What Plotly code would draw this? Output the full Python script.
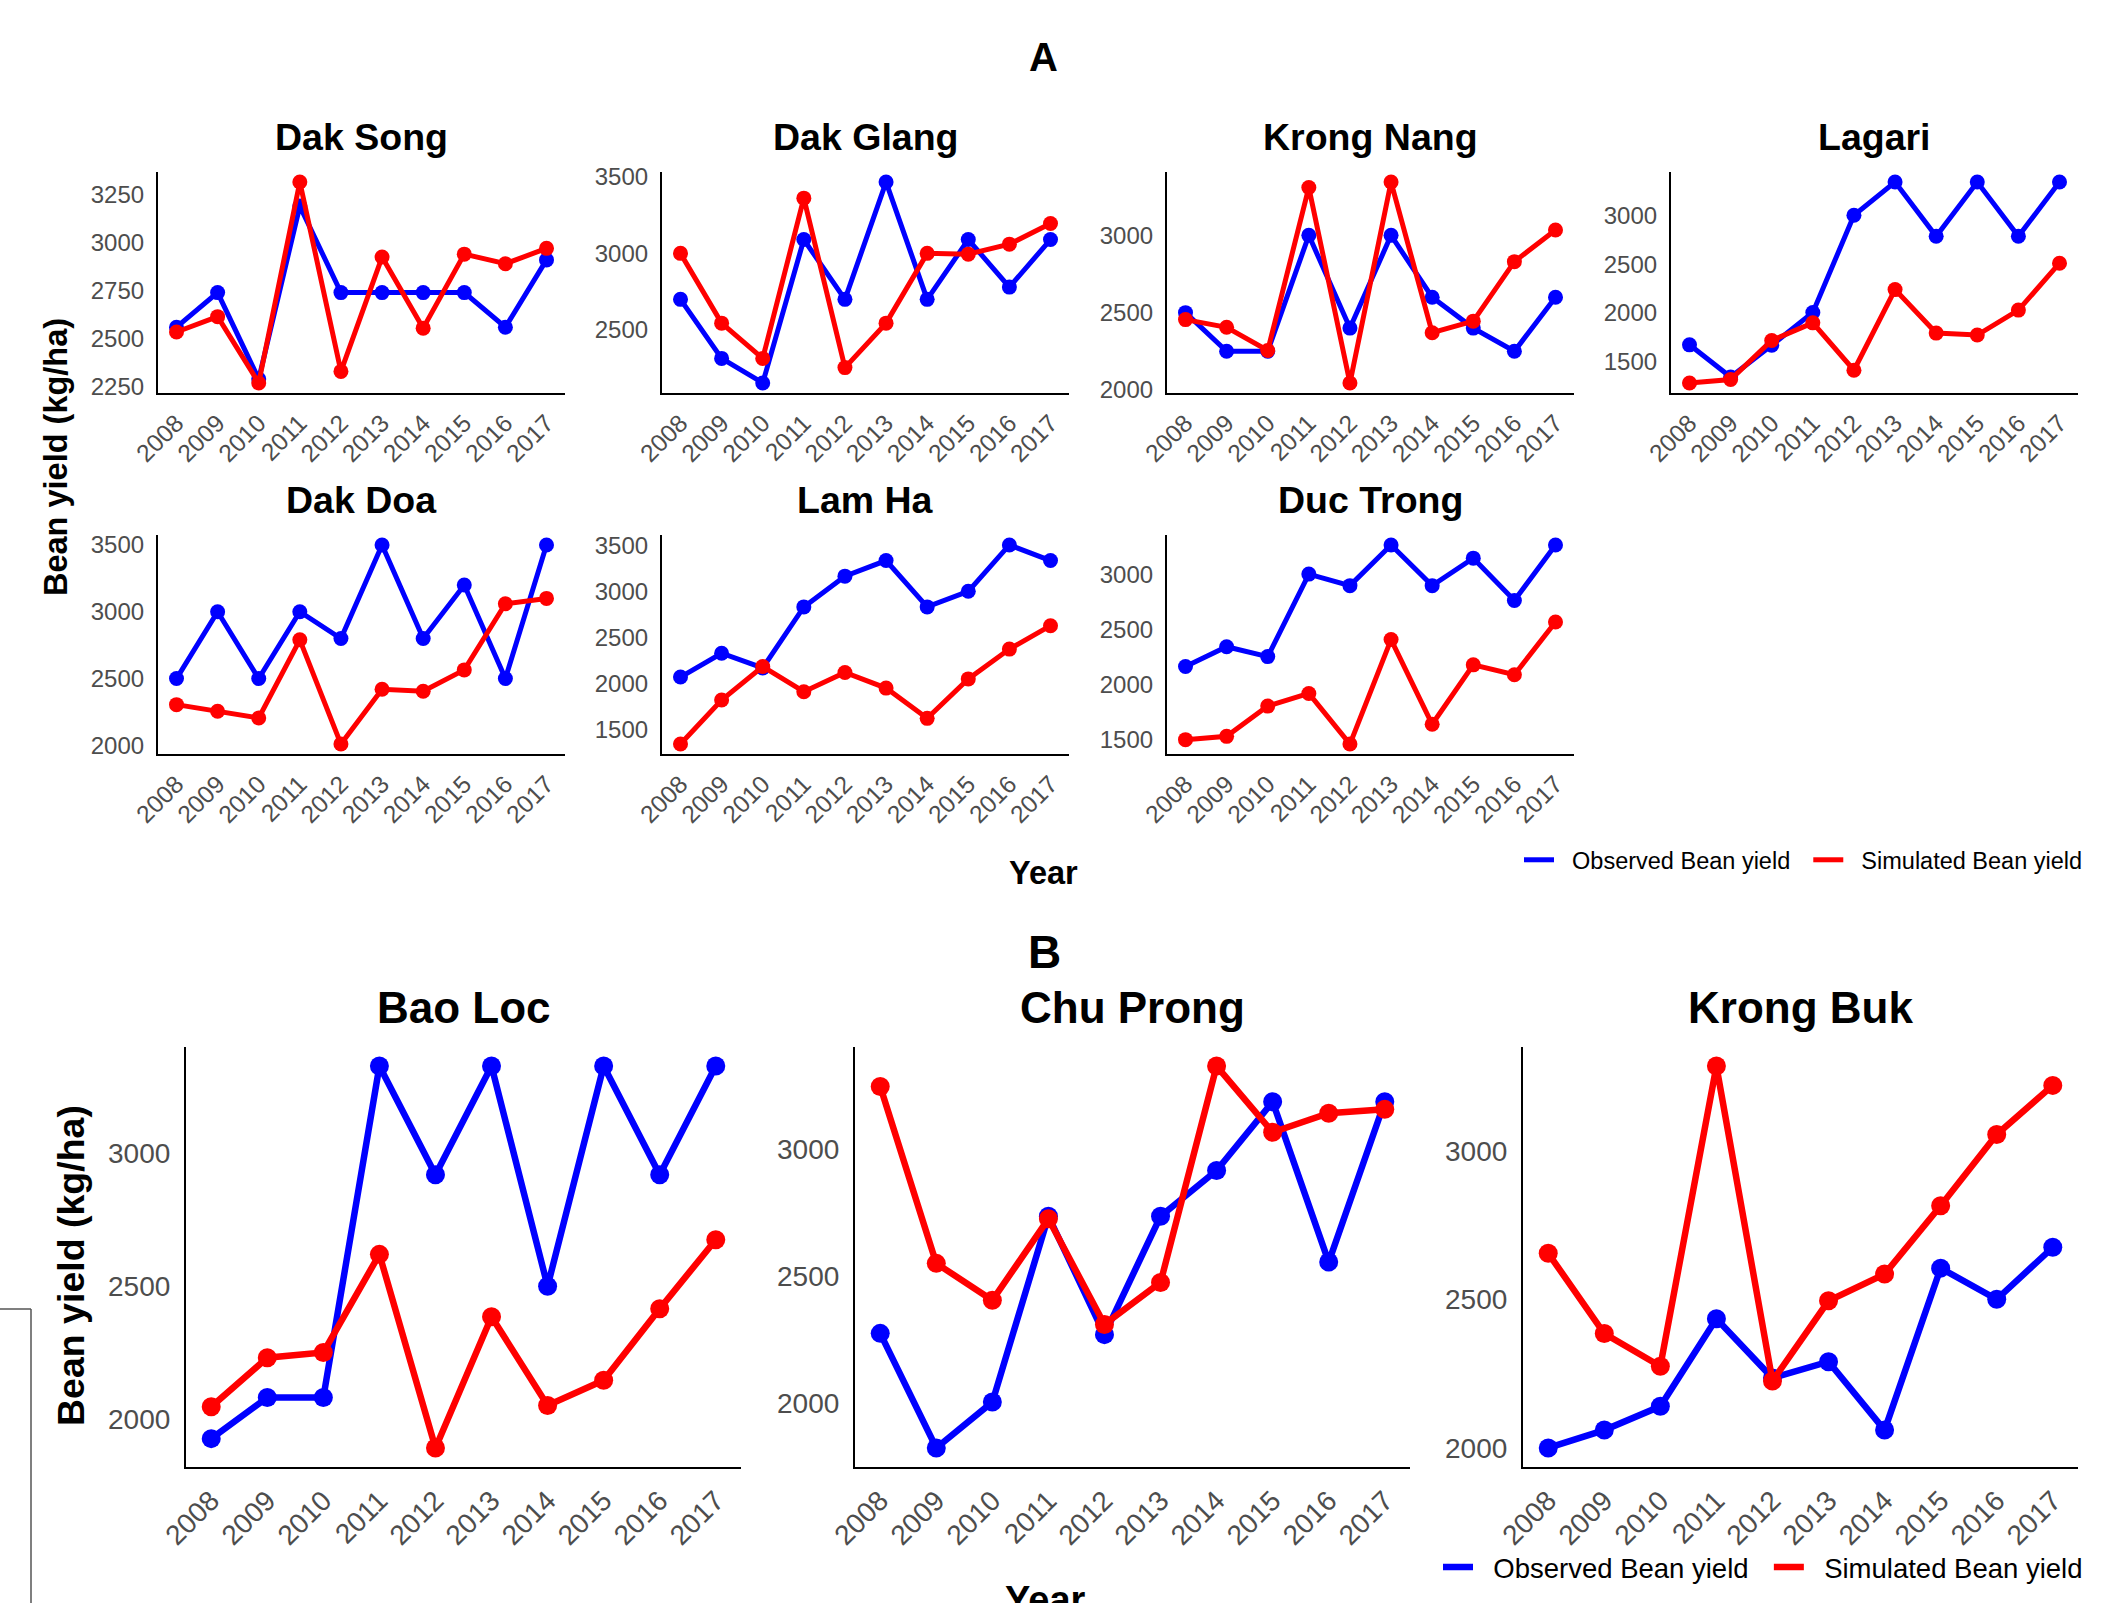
import plotly.graph_objects as go

# ---- data -------------------------------------------------------------
years = [2008, 2009, 2010, 2011, 2012, 2013, 2014, 2015, 2016, 2017]

dak_song_obs = [2560, 2740, 2290, 3190, 2740, 2740, 2740, 2740, 2560, 2910]
dak_song_sim = [2535, 2615, 2270, 3315, 2330, 2925, 2555, 2940, 2890, 2970]

dak_glang_obs = [2700, 2315, 2155, 3090, 2700, 3465, 2700, 3090, 2780, 3090]
dak_glang_sim = [3000, 2545, 2315, 3360, 2255, 2545, 3000, 2995, 3060, 3195]

krong_nang_obs = [2500, 2250, 2250, 3000, 2400, 3000, 2600, 2400, 2250, 2600]
krong_nang_sim = [2455, 2405, 2255, 3310, 2045, 3345, 2370, 2445, 2830, 3035]

lagari_obs = [1675, 1345, 1670, 2005, 3000, 3340, 2785, 3340, 2785, 3340]
lagari_sim = [1285, 1320, 1720, 1900, 1415, 2240, 1795, 1775, 2030, 2510]

dak_doa_obs = [2500, 3000, 2500, 3000, 2800, 3500, 2800, 3200, 2500, 3500]
dak_doa_sim = [2305, 2255, 2205, 2790, 2010, 2420, 2405, 2565, 3060, 3100]

lam_ha_obs = [2070, 2330, 2170, 2835, 3170, 3340, 2835, 3005, 3510, 3340]
lam_ha_sim = [1340, 1820, 2185, 1910, 2120, 1950, 1620, 2050, 2375, 2630]

duc_trong_obs = [2160, 2340, 2250, 3000, 2895, 3265, 2895, 3145, 2760, 3265]
duc_trong_sim = [1495, 1525, 1800, 1915, 1455, 2405, 1635, 2175, 2085, 2565]

bao_loc_obs = [1925, 2080, 2080, 3330, 2920, 3330, 2500, 3330, 2920, 3330]
bao_loc_sim = [2045, 2230, 2250, 2620, 1890, 2385, 2050, 2145, 2415, 2675]

chu_prong_obs = [2275, 1825, 2005, 2735, 2270, 2735, 2915, 3185, 2555, 3185]
chu_prong_sim = [3245, 2550, 2405, 2725, 2310, 2475, 3325, 3065, 3140, 3155]

krong_buk_obs = [2000, 2060, 2140, 2435, 2235, 2290, 2060, 2605, 2500, 2675]
krong_buk_sim = [2655, 2385, 2275, 3285, 2225, 2495, 2585, 2815, 3055, 3220]

obs_name = "Observed Bean yield"
sim_name = "Simulated Bean yield"

# ---- page geometry (pixels) -------------------------------------------
W, H = 2123, 1603
FONT = "Liberation Sans, Arial, sans-serif"
BLUE, RED = "#0000FF", "#FF0000"
TICK_GREY = "#4D4D4D"
NBSP = "\u00a0"


def fx(px):
    return px / W


def fy(py):
    return 1 - py / H


top_w = 407
top_lefts = [158, 662, 1167, 1671]
row1 = (172, 393)
row2 = (535, 754)
bot_w = 555
bot_lefts = [186, 855, 1523]
row3 = (1047, 1467)

# title, observed, simulated, dtick, (left, top, right, bottom), section
panels = [
    ("Dak Song", dak_song_obs, dak_song_sim, 250, (top_lefts[0], row1[0], top_lefts[0] + top_w, row1[1]), "A"),
    ("Dak Glang", dak_glang_obs, dak_glang_sim, 500, (top_lefts[1], row1[0], top_lefts[1] + top_w, row1[1]), "A"),
    ("Krong Nang", krong_nang_obs, krong_nang_sim, 500, (top_lefts[2], row1[0], top_lefts[2] + top_w, row1[1]), "A"),
    ("Lagari", lagari_obs, lagari_sim, 500, (top_lefts[3], row1[0], top_lefts[3] + top_w, row1[1]), "A"),
    ("Dak Doa", dak_doa_obs, dak_doa_sim, 500, (top_lefts[0], row2[0], top_lefts[0] + top_w, row2[1]), "A"),
    ("Lam Ha", lam_ha_obs, lam_ha_sim, 500, (top_lefts[1], row2[0], top_lefts[1] + top_w, row2[1]), "A"),
    ("Duc Trong", duc_trong_obs, duc_trong_sim, 500, (top_lefts[2], row2[0], top_lefts[2] + top_w, row2[1]), "A"),
    ("Bao Loc", bao_loc_obs, bao_loc_sim, 500, (bot_lefts[0], row3[0], bot_lefts[0] + bot_w, row3[1]), "B"),
    ("Chu Prong", chu_prong_obs, chu_prong_sim, 500, (bot_lefts[1], row3[0], bot_lefts[1] + bot_w, row3[1]), "B"),
    ("Krong Buk", krong_buk_obs, krong_buk_sim, 500, (bot_lefts[2], row3[0], bot_lefts[2] + bot_w, row3[1]), "B"),
]

style = {
    "A": dict(lw=5, ms=15, ytick=24, xtick=24.5, ystand=7, title=37.5, title_gap=35, legend="legend"),
    "B": dict(lw=6.5, ms=19, ytick=28, xtick=28, ystand=8, title=44, title_gap=40, legend="legend2"),
}
legend_panel = {"A": 0, "B": 7}

fig = go.Figure()
layout_axes = {}
annotations = []

for i, (name, obs, sim, dtick, (l, t, r, b), sec) in enumerate(panels):
    n = "" if i == 0 else str(i + 1)
    st = style[sec]
    show_leg = legend_panel[sec] == i
    for series, color, label in ((obs, BLUE, obs_name), (sim, RED, sim_name)):
        shown = NBSP * 2 + label + (NBSP * 2 if label == obs_name else "")
        fig.add_trace(go.Scatter(
            x=years, y=series, xaxis="x" + n, yaxis="y" + n, mode="lines",
            line=dict(color=color, width=st["lw"]), name=shown,
            showlegend=show_leg, legend=st["legend"], hoverinfo="skip",
            cliponaxis=False,
        ))
        fig.add_trace(go.Scatter(
            x=years, y=series, xaxis="x" + n, yaxis="y" + n, mode="markers",
            marker=dict(color=color, size=st["ms"]), name=label,
            showlegend=False, cliponaxis=False,
        ))

    lo = min(min(obs), min(sim))
    hi = max(max(obs), max(sim))
    pad = 0.05 * (hi - lo)
    common = dict(
        showline=True, linecolor="black", linewidth=2.2, ticks="",
        showgrid=False, zeroline=False,
    )
    layout_axes["xaxis" + n] = dict(
        domain=[fx(l), fx(r)], anchor="y" + n,
        range=[years[0] - 0.05 * (years[-1] - years[0]), years[-1] + 0.05 * (years[-1] - years[0])],
        tickmode="array", tickvals=years, ticktext=[str(y) for y in years],
        tickangle=-45, ticklabelstandoff=4,
        tickfont=dict(family=FONT, size=st["xtick"], color=TICK_GREY), **common,
    )
    layout_axes["yaxis" + n] = dict(
        domain=[fy(b), fy(t)], anchor="x" + n,
        range=[lo - pad, hi + pad], tick0=0, dtick=dtick,
        ticklabelstandoff=st["ystand"],
        tickfont=dict(family=FONT, size=st["ytick"], color=TICK_GREY), **common,
    )
    annotations.append(dict(
        text="<b>%s</b>" % name, x=fx((l + r) / 2), y=fy(t - st["title_gap"]),
        xref="paper", yref="paper", xanchor="center", yanchor="middle",
        showarrow=False, font=dict(family=FONT, size=st["title"], color="black"),
    ))


# section labels, shared axis titles
def label(text, x, y, size, angle=0, yanchor="middle"):
    annotations.append(dict(
        text="<b>%s</b>" % text, x=fx(x), y=fy(y), xref="paper", yref="paper",
        xanchor="center", yanchor=yanchor, showarrow=False, textangle=angle,
        font=dict(family=FONT, size=size, color="black"),
    ))


label("A", 1043, 57, 40)
label("B", 1044, 952, 46)
label("Year", 1043, 873, 32.5)
label("Year", 1045, 1577, 38, yanchor="top")
label("Bean yield (kg/ha)", 56, 457, 32.5, angle=-90)
label("Bean yield (kg/ha)", 71, 1266, 37.5, angle=-90)

legend_common = dict(
    orientation="h", xanchor="right", yanchor="middle",
    bgcolor="rgba(0,0,0,0)", borderwidth=0, itemwidth=30,
)

fig.update_layout(
    width=W, height=H,
    margin=dict(l=0, r=0, t=0, b=0, pad=0, autoexpand=False),
    paper_bgcolor="white", plot_bgcolor="white",
    font=dict(family=FONT, color="black"),
    annotations=annotations,
    legend=dict(x=fx(2088), y=fy(860), font=dict(family=FONT, size=23.5, color="black"), **legend_common),
    legend2=dict(x=fx(2088), y=fy(1567), font=dict(family=FONT, size=27.5, color="black"), **legend_common),
    shapes=[
        dict(type="line", xref="paper", yref="paper", x0=0, x1=fx(31), y0=fy(1309), y1=fy(1309),
             line=dict(color="#555555", width=1.5)),
        dict(type="line", xref="paper", yref="paper", x0=fx(31), x1=fx(31), y0=fy(1309), y1=0,
             line=dict(color="#555555", width=1.5)),
    ],
    **layout_axes,
)

fig.write_html("out.html")
